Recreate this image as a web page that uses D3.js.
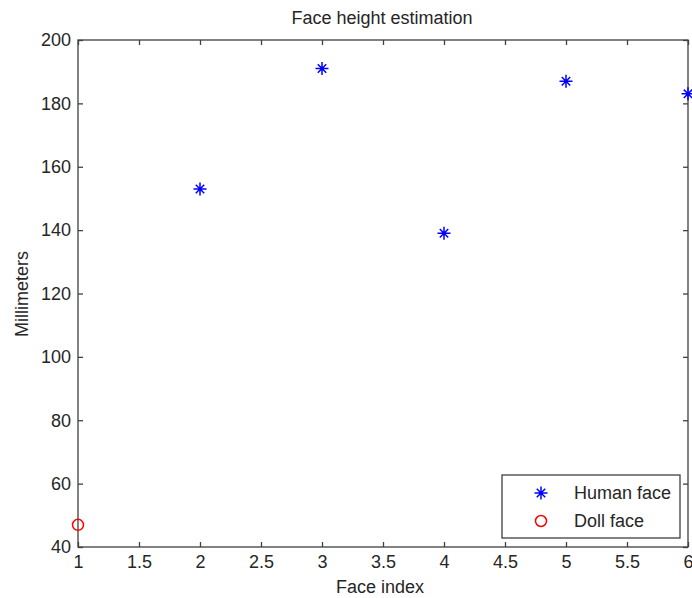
<!DOCTYPE html>
<html>
<head>
<meta charset="utf-8">
<script src="https://cdn.jsdelivr.net/npm/d3@7"></script>
<style>
  body { margin: 0; background: #fff; }
  svg { display: block; }
  text { font-family: "Liberation Sans", Arial, sans-serif; fill: #262626; }
</style>
</head>
<body>
<svg id="chart" width="692" height="598"></svg>
<script>
const humanX = [2, 3, 4, 5, 6];
const humanY = [153, 191, 139, 187, 183];
const dollX = [1];
const dollY = [47];
const xTicks = [1, 1.5, 2, 2.5, 3, 3.5, 4, 4.5, 5, 5.5, 6];
const yTicks = [40, 60, 80, 100, 120, 140, 160, 180, 200];
const legendLabels = ["Human face", "Doll face"];
const titleText = "Face height estimation";
const xLabel = "Face index";
const yLabel = "Millimeters";

(function () {
const svg = d3.select("#chart");
const pL = 78, pR = 688, pT = 40, pB = 547;
const x = d3.scaleLinear().domain([1, 6]).range([pL, pR]);
const y = d3.scaleLinear().domain([40, 200]).range([pB, pT]);
const axisColor = "#404040";
const tickLen = 5;
const fontSize = 18;

svg.append("rect").attr("x", pL).attr("y", pT)
  .attr("width", pR - pL).attr("height", pB - pT)
  .attr("fill", "none").attr("stroke", axisColor).attr("stroke-width", 1.3);

function styleAxis(g) {
  g.select(".domain").remove();
  g.selectAll(".tick line").attr("stroke", axisColor).attr("stroke-width", 1.3);
  g.selectAll(".tick text").attr("font-size", fontSize).attr("fill", "#262626")
    .attr("font-family", '"Liberation Sans", Arial, sans-serif');
}

svg.append("g").attr("transform", `translate(0,${pB})`)
  .call(d3.axisBottom(x).tickValues(xTicks).tickSize(-tickLen).tickPadding(8).tickFormat(d3.format("")))
  .call(styleAxis);
svg.append("g").attr("transform", `translate(0,${pT})`)
  .call(d3.axisTop(x).tickValues(xTicks).tickSize(-tickLen).tickFormat(""))
  .call(styleAxis);
svg.append("g").attr("transform", `translate(${pL},0)`)
  .call(d3.axisLeft(y).tickValues(yTicks).tickSize(-tickLen).tickPadding(7).tickFormat(d3.format("")))
  .call(styleAxis);
svg.append("g").attr("transform", `translate(${pR},0)`)
  .call(d3.axisRight(y).tickValues(yTicks).tickSize(-tickLen).tickFormat(""))
  .call(styleAxis);

svg.append("text").attr("x", 382).attr("y", 24)
  .attr("text-anchor", "middle").attr("font-size", fontSize).text(titleText);
svg.append("text").attr("x", 380).attr("y", 593)
  .attr("text-anchor", "middle").attr("font-size", fontSize).text(xLabel);
svg.append("text").attr("transform", `translate(28,294) rotate(-90)`)
  .attr("text-anchor", "middle").attr("font-size", fontSize).text(yLabel);

function starPath(s) {
  const d = s * 0.65;
  return `M${-s},0L${s},0M0,${-s}L0,${s}M${-d},${-d}L${d},${d}M${-d},${d}L${d},${-d}`;
}
const blue = "#0000ff", red = "#ff0000";

svg.append("g").selectAll("path").data(humanX.map((v, i) => [v, humanY[i]]))
  .join("path")
  .attr("transform", d => `translate(${x(d[0])},${y(d[1])})`)
  .attr("d", starPath(6.5))
  .attr("stroke", blue).attr("stroke-width", 1.5).attr("fill", "none");

svg.append("g").selectAll("circle").data(dollX.map((v, i) => [v, dollY[i]]))
  .join("circle")
  .attr("cx", d => x(d[0])).attr("cy", d => y(d[1])).attr("r", 5.5)
  .attr("stroke", red).attr("stroke-width", 1.5).attr("fill", "none");

const lg = svg.append("g");
lg.append("rect").attr("x", 502).attr("y", 475).attr("width", 178).attr("height", 63)
  .attr("fill", "#fff").attr("stroke", axisColor).attr("stroke-width", 1.3);
lg.append("path").attr("transform", "translate(541,493)").attr("d", starPath(6.5))
  .attr("stroke", blue).attr("stroke-width", 1.5).attr("fill", "none");
lg.append("circle").attr("cx", 541).attr("cy", 521).attr("r", 5.5)
  .attr("stroke", red).attr("stroke-width", 1.5).attr("fill", "none");
lg.append("text").attr("x", 574).attr("y", 499).attr("font-size", fontSize).text(legendLabels[0]);
lg.append("text").attr("x", 574).attr("y", 527).attr("font-size", fontSize).text(legendLabels[1]);
})();
</script>
</body>
</html>
